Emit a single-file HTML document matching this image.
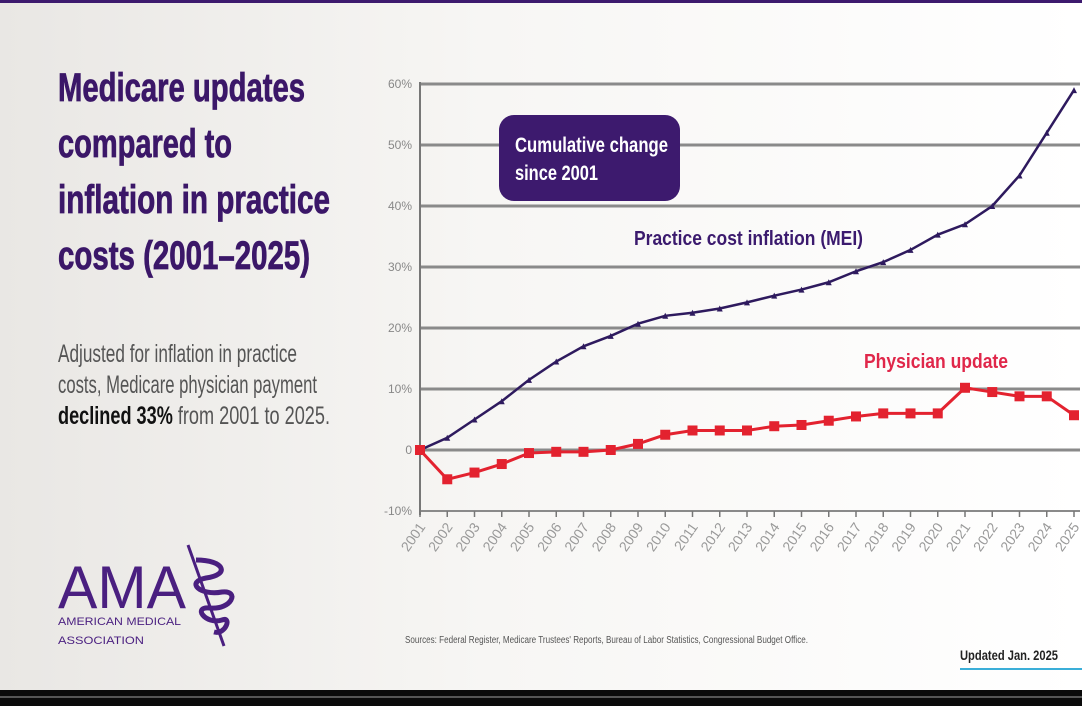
<!DOCTYPE html>
<html><head><meta charset="utf-8"><style>
html,body{margin:0;padding:0;width:1082px;height:706px;overflow:hidden;background:#fff}
svg{display:block;font-family:"Liberation Sans Narrow","Liberation Sans",sans-serif}
</style></head><body>
<svg id="chart" width="1082" height="706" viewBox="0 0 1082 706">
<defs><linearGradient id="bg" x1="0" x2="1" y1="0" y2="0"><stop offset="0" stop-color="#e9e7e4"/><stop offset="0.45" stop-color="#f7f6f4"/><stop offset="1" stop-color="#ffffff"/></linearGradient></defs>
<rect width="1082" height="706" fill="url(#bg)"/>
<rect x="0" y="0" width="1082" height="3" fill="#3d1a6e"/>
<rect x="0" y="690" width="1082" height="16" fill="#0a0a0a"/>
<rect x="0" y="696" width="1082" height="2" fill="#555"/>
<g fill="#3b1768" font-weight="bold" font-size="40" stroke="#3b1768" stroke-width="0.8">
<text x="58" y="101" textLength="247" lengthAdjust="spacingAndGlyphs">Medicare updates</text>
<text x="58" y="157" textLength="174" lengthAdjust="spacingAndGlyphs">compared to</text>
<text x="58" y="213" textLength="272" lengthAdjust="spacingAndGlyphs">inflation in practice</text>
<text x="58" y="269" textLength="252" lengthAdjust="spacingAndGlyphs">costs (2001–2025)</text>
</g>
<g fill="#555" font-size="25">
<text x="58" y="362" textLength="239" lengthAdjust="spacingAndGlyphs">Adjusted for inflation in practice</text>
<text x="58" y="393" textLength="259" lengthAdjust="spacingAndGlyphs">costs, Medicare physician payment</text>
<text x="58" y="424" textLength="272" lengthAdjust="spacingAndGlyphs"><tspan fill="#111" font-weight="bold">declined 33%</tspan> from 2001 to 2025.</text>
</g>
<g>
<text x="58" y="608" fill="#4a1f80" font-family="Liberation Sans,sans-serif" font-size="60" textLength="128" lengthAdjust="spacingAndGlyphs">AMA</text>
<text x="58" y="625" fill="#4a1f80" font-family="Liberation Sans,sans-serif" font-size="11" textLength="123" lengthAdjust="spacingAndGlyphs">AMERICAN MEDICAL</text>
<text x="58" y="644" fill="#4a1f80" font-family="Liberation Sans,sans-serif" font-size="11" textLength="86" lengthAdjust="spacingAndGlyphs">ASSOCIATION</text>
<path d="M188 545 L224 646" stroke="#4a1f80" stroke-width="3" fill="none"/>
<path d="M196 560 C225 560 230 575 206 578 C185 582 200 596 222 592 C240 590 232 610 210 608 C192 606 205 625 222 620 C232 616 226 635 214 632" stroke="#4a1f80" stroke-width="5" fill="none"/>
</g>
<g id="plot"></g>
<rect x="499" y="115" width="181" height="86" rx="15" fill="#3d1a6e"/>
<text x="515" y="152" fill="#fff" font-weight="bold" font-size="21" textLength="153" lengthAdjust="spacingAndGlyphs">Cumulative change</text>
<text x="515" y="180" fill="#fff" font-weight="bold" font-size="21" textLength="83" lengthAdjust="spacingAndGlyphs">since 2001</text>
<text x="634" y="245" fill="#3b1a6e" font-weight="bold" font-size="20" textLength="229" lengthAdjust="spacingAndGlyphs">Practice cost inflation (MEI)</text>
<text x="864" y="368" fill="#e0274a" font-weight="bold" font-size="20" textLength="144" lengthAdjust="spacingAndGlyphs">Physician update</text>
<text x="405" y="643" fill="#555" font-size="10" textLength="403" lengthAdjust="spacingAndGlyphs">Sources: Federal Register, Medicare Trustees' Reports, Bureau of Labor Statistics, Congressional Budget Office.</text>
<text x="960" y="660" fill="#222" font-weight="bold" font-size="14" textLength="98" lengthAdjust="spacingAndGlyphs">Updated Jan. 2025</text>
<rect x="960" y="668" width="122" height="2" fill="#3aaed8"/>
</svg>
<script>
const years = ["2001","2002","2003","2004","2005","2006","2007","2008","2009","2010","2011","2012","2013","2014","2015","2016","2017","2018","2019","2020","2021","2022","2023","2024","2025"];
const meiValues = [0,2,5,8,11.5,14.5,17,18.7,20.7,22,22.5,23.2,24.2,25.3,26.3,27.5,29.3,30.8,32.8,35.3,37,40,45,52,59];
const physicianValues = [0,-4.8,-3.7,-2.3,-0.5,-0.3,-0.3,0,1,2.5,3.2,3.2,3.2,3.9,4.1,4.8,5.5,6,6,6,10.2,9.5,8.8,8.8,5.7];
const yTicks = [-10,0,10,20,30,40,50,60];
const yTickLabels = ["-10%","0","10%","20%","30%","40%","50%","60%"];

const NS = "http://www.w3.org/2000/svg";
const g = document.getElementById("plot");
const X0 = 420, X1 = 1074, Y0 = 450, PER10 = 61;
function xs(i){ return X0 + i*(X1-X0)/(years.length-1); }
function ys(v){ return Y0 - v*PER10/10; }
function mk(tag, attrs){ const e=document.createElementNS(NS,tag); for(const k in attrs) e.setAttribute(k,attrs[k]); g.appendChild(e); return e; }

yTicks.forEach((t,i)=>{
  const l = mk("line",{x1:X0,x2:1080,y1:ys(t),y2:ys(t),stroke:"#8a8a8a","stroke-width":t===-10?2:3});
  
  
  const tx = mk("text",{x:412,y:ys(t)+4,"text-anchor":"end","font-size":12,fill:"#888"});
  tx.textContent = yTickLabels[i];
  
  
});
const ax = mk("line",{x1:X0,x2:X0,y1:ys(60)-2,y2:ys(-10)+4,stroke:"#777","stroke-width":2});


years.forEach((yr,i)=>{
  const tk = mk("line",{x1:xs(i),x2:xs(i),y1:ys(-10),y2:ys(-10)+6,stroke:"#777","stroke-width":1.5});
  
  
  const ax2 = xs(i)+6, ay2 = ys(-10)+16;
  const tx = mk("text",{x:ax2,y:ay2,"text-anchor":"end","font-size":14,fill:"#999",transform:`rotate(-55 ${ax2} ${ay2})`});
  tx.textContent = yr;
  
  
});
const meiPath = mk("polyline",{points:meiValues.map((v,i)=>xs(i)+","+ys(v)).join(" "),fill:"none",stroke:"#2e1a5e","stroke-width":2.5});


meiValues.forEach((v,i)=>{
  const p = mk("path",{d:`M${xs(i)-3} ${ys(v)+3} L${xs(i)+3} ${ys(v)+3} L${xs(i)} ${ys(v)-3} Z`,fill:"#2e1a5e"});
  
  
});
const phPath = mk("polyline",{points:physicianValues.map((v,i)=>xs(i)+","+ys(v)).join(" "),fill:"none",stroke:"#e3222f","stroke-width":3});


physicianValues.forEach((v,i)=>{
  const r = mk("rect",{x:xs(i)-5,y:ys(v)-5,width:10,height:10,fill:"#e3222f"});
  
  
});
</script>
</body></html>
